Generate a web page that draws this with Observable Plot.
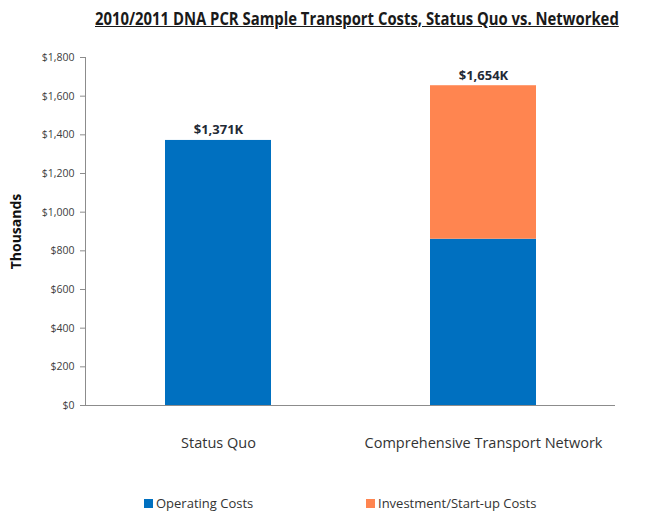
<!DOCTYPE html>
<html>
<head>
<meta charset="utf-8">
<script src="https://cdn.jsdelivr.net/npm/d3@7"></script>
<script src="https://cdn.jsdelivr.net/npm/@observablehq/plot@0.6"></script>
<style>
  html, body { margin: 0; padding: 0; background: #fff; }
  body { width: 658px; height: 519px; overflow: hidden; font-family: "Open Sans", sans-serif; }
  #title { height: 36px; line-height: 36px; padding-left: 95px; white-space: nowrap; }
  #title span { display: inline-block; font-size: 18px; font-weight: bold; color: #1a1a1a; text-decoration: underline; transform: scaleX(0.825); transform-origin: left center; }
  #legend { position: relative; height: 53px; font-size: 13px; color: #333; }
  #legend .item { position: absolute; top: 28px; display: flex; align-items: center; white-space: nowrap; }
  #legend .sw { width: 9px; height: 9px; margin-right: 3px; }
</style>
</head>
<body>
<div id="title"><span>2010/2011 DNA PCR Sample Transport Costs, Status Quo vs. Networked</span></div>
<div id="chart"></div>
<div id="legend"></div>
<script>
const categories = ["Status Quo", "Comprehensive Transport Network"];
const seriesNames = ["Operating Costs", "Investment/Start-up Costs"];
const operating = [1371, 860];
const investment = [0, 794];
const totals = [1371, 1654];
const totalLabels = ["$1,371K", "$1,654K"];
const yTicks = [0, 200, 400, 600, 800, 1000, 1200, 1400, 1600, 1800];
const colors = ["#0070C0", "#FF8550"];

const rows = [];
categories.forEach((c, i) => {
  rows.push({category: c, series: seriesNames[0], value: operating[i]});
  rows.push({category: c, series: seriesNames[1], value: investment[i]});
});
const totalRows = categories.map((c, i) => ({category: c, total: totals[i], label: totalLabels[i]}));

const chart = Plot.plot({
  width: 658,
  height: 430,
  marginLeft: 85,
  marginRight: 43,
  marginTop: 21,
  marginBottom: 61,
  style: {fontFamily: '"Open Sans", sans-serif', background: "#fff"},
  x: {domain: categories, paddingInner: 0.6, paddingOuter: 0.3, label: null},
  y: {domain: [0, 1800], label: null},
  color: {domain: seriesNames, range: colors},
  marks: [
    Plot.barY(rows, {x: "category", y: "value", fill: "series"}),
    Plot.text(totalRows, {x: "category", y: "total", text: "label", dy: -6, lineAnchor: "bottom", fontSize: 13, fontWeight: "bold", fill: "#1f2a36"}),
    Plot.frame({anchor: "left", stroke: "#8c8c8c"}),
    Plot.ruleY([0], {stroke: "#8c8c8c"}),
    Plot.axisY({ticks: yTicks, tickFormat: d3.format("$,"), tickSize: 5, tickPadding: 6, fontSize: 10.5, color: "#404040", stroke: "#8c8c8c", label: "Thousands", labelAnchor: "center", labelArrow: "none", labelOffset: 74}),
    Plot.axisX({tickSize: 0, tickPadding: 32, fontSize: 14.5, color: "#333", label: null})
  ]
});
document.getElementById("chart").appendChild(chart);

// style y-axis label
d3.select(chart).selectAll("text").filter(function() { return this.textContent === "Thousands"; })
  .attr("font-weight", "bold").attr("font-size", 14).attr("fill", "#111");

const legend = document.getElementById("legend");
const lefts = [144, 366];
seriesNames.forEach((s, i) => {
  const it = document.createElement("div");
  it.className = "item";
  it.style.left = lefts[i] + "px";
  it.innerHTML = `<div class="sw" style="background:${colors[i]}"></div><span>${s}</span>`;
  legend.appendChild(it);
});
</script>
</body>
</html>
